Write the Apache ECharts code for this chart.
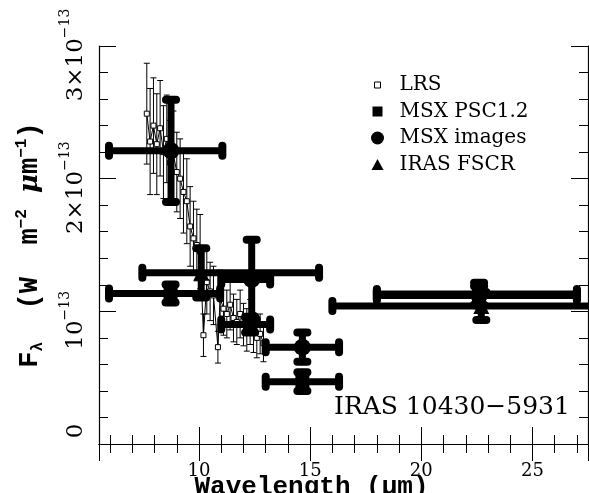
<!DOCTYPE html>
<html><head><meta charset="utf-8">
<script src="https://cdn.jsdelivr.net/npm/echarts@6/dist/echarts.min.js"></script>
<style>html,body{margin:0;padding:0;background:#fff}#c{width:589px;height:493px}</style>
</head><body><div id="c"></div>
<script>
// ---- LRS spectrum (units of 1e-13 W m^-2 um^-1) ----
const lrsLam  = [7.65,7.80,7.95,8.10,8.25,8.40,8.55,8.70,8.85,9.00,9.15,9.30,9.45,9.60,9.75,9.90,10.05,10.20,10.35,10.50,10.65,10.85,10.95,11.10,11.25,11.40,11.55,11.70,11.85,12.00,12.15,12.30,12.45,12.60,12.75,12.90];
const lrsFlux = [2.49,2.28,2.40,2.26,2.38,2.20,2.30,2.12,2.18,2.05,2.00,1.90,1.83,1.64,1.55,1.50,1.45,0.82,1.22,1.15,1.12,0.73,1.10,1.02,0.98,1.05,0.95,0.92,0.98,0.90,0.86,0.92,0.84,0.80,0.83,0.76];
const lrsErr  = [0.38,0.40,0.36,0.38,0.36,0.35,0.33,0.32,0.33,0.30,0.30,0.31,0.32,0.30,0.28,0.27,0.28,0.16,0.24,0.22,0.22,0.12,0.21,0.20,0.18,0.19,0.18,0.17,0.18,0.16,0.16,0.17,0.15,0.15,0.15,0.14];

// ---- MSX PSC1.2 ----
const psLam   = [8.72, 12.30, 14.65, 22.60];
const psFlux  = [1.135, 0.90, 0.47, 1.13];
const psErr   = [0.068, 0.06, 0.07, 0.085];
const psLamLo = [5.95, 11.00, 13.00, 18.00];
const psLamHi = [10.95, 13.20, 16.30, 27.00];

// ---- MSX images ----
const imLam   = [8.74, 12.37, 14.65, 22.60];
const imFlux  = [2.21, 1.24, 0.73, 1.12];
const imErr   = [0.385, 0.30, 0.11, 0.07];
const imLamLo = [5.95, 11.00, 13.00, 18.00];
const imLamHi = [11.05, 13.20, 16.30, 27.00];

// ---- IRAS FSCR ----
const irLam   = [10.10, 22.70];
const irFlux  = [1.29, 1.04];
const irErr   = [0.185, 0.105];
const irLamLo = [7.45, 16.00];
const irLamHi = [15.40, 30.00];

// ---- tick labels ----
const yTickLabels = {0: '{z|0}', 1: '{m|10}{s|−13}', 2: '{m|2×10}{s|−13}', 3: '{m|3×10}{s|−13}'};
const legendNames = ['LRS', 'MSX PSC1.2', 'MSX images', 'IRAS FSCR'];
const objectName = 'IRAS 10430−5931';

const chart = echarts.init(document.getElementById('c'), null, {renderer: 'canvas'});

function thinBars(params, api) {
  const x = api.value(0), y = api.value(1), e = api.value(2);
  const t = api.coord([x, y + e]), b = api.coord([x, y - e]);
  const st = {stroke: '#000', lineWidth: 1};
  const h = 3;
  return {type: 'group', children: [
    {type: 'line', shape: {x1: t[0], y1: t[1], x2: b[0], y2: b[1]}, style: st},
    {type: 'line', shape: {x1: t[0]-h, y1: t[1], x2: t[0]+h, y2: t[1]}, style: st},
    {type: 'line', shape: {x1: b[0]-h, y1: b[1], x2: b[0]+h, y2: b[1]}, style: st}
  ]};
}
function thickBars(params, api) {
  const x = api.value(0), y = api.value(1), e = api.value(2), lo = api.value(3), hi = api.value(4);
  const c = api.coord([x, y]);
  const t = api.coord([x, y + e]), b = api.coord([x, y - e]);
  const L = api.coord([lo, y]), R = api.coord([hi, y]);
  const st = {stroke: '#000', lineWidth: 7, lineCap: 'round'};
  const cs = {stroke: '#000', lineWidth: 8, lineCap: 'round'};
  const h = 5;
  return {type: 'group', children: [
    {type: 'line', shape: {x1: L[0], y1: c[1], x2: R[0], y2: c[1]}, style: st},
    {type: 'line', shape: {x1: c[0], y1: t[1], x2: c[0], y2: b[1]}, style: st},
    {type: 'line', shape: {x1: L[0], y1: c[1]-h, x2: L[0], y2: c[1]+h}, style: cs},
    {type: 'line', shape: {x1: R[0], y1: c[1]-h, x2: R[0], y2: c[1]+h}, style: cs},
    {type: 'line', shape: {x1: t[0]-h, y1: t[1], x2: t[0]+h, y2: t[1]}, style: cs},
    {type: 'line', shape: {x1: b[0]-h, y1: b[1], x2: b[0]+h, y2: b[1]}, style: cs}
  ]};
}
const pack5 = (l, f, e, lo, hi) => l.map((v, i) => [v, f[i], e[i], lo[i], hi[i]]);

const axisCommon = {
  axisLine: {show: true, lineStyle: {color: '#000', width: 1.2}},
  axisTick: {show: true, inside: true, length: 17, lineStyle: {color: '#000', width: 1}},
  minorTick: {show: true, splitNumber: 5, length: 9, lineStyle: {color: '#000', width: 1}},
  splitLine: {show: false}, minorSplitLine: {show: false}
};

const option = {
  backgroundColor: '#fff',
  animation: false,
  title: {text: objectName, left: 334, top: 395, padding: 0,
    textStyle: {fontFamily: 'DejaVu Serif', fontSize: 25, fontWeight: 'normal', color: '#000'}},
  legend: {
    show: true, selectedMode: false, orient: 'vertical', left: 360, top: 75,
    itemWidth: 34, itemHeight: 14, itemGap: 6.5, padding: 0,
    textStyle: {fontFamily: 'DejaVu Serif', fontSize: 20, color: '#000', lineHeight: 20},
    data: [
      {name: legendNames[0], icon: 'path://M0,0M34,14M14,4L20,4L20,10L14,10Z',
        itemStyle: {color: '#fff', borderColor: '#000', borderWidth: 1}},
      {name: legendNames[1], icon: 'path://M0,0M34,14M12,2L22,2L22,12L12,12Z', itemStyle: {color: '#000'}},
      {name: legendNames[2], icon: 'path://M0,0M34,14M17,0.5A6.5,6.5,0,1,1,17,13.5A6.5,6.5,0,1,1,17,0.5Z', itemStyle: {color: '#000'}},
      {name: legendNames[3], icon: 'path://M0,0M34,14M17,1.5L23,12.5L11,12.5Z', itemStyle: {color: '#000'}}
    ]
  },
  grid: {left: 99, right: 1, top: 46, bottom: 49, containLabel: false, outerBoundsMode: 'none'},
  xAxis: [
    Object.assign({type: 'value', min: 5.5, max: 27.5, position: 'bottom',
      name: 'Wavelength (µm)', nameLocation: 'middle', nameGap: 30, nameMoveOverlap: false,
      nameTextStyle: {fontFamily: 'Liberation Mono', fontWeight: 'bold', fontSize: 26, color: '#000', padding: [0, 64, 0, 0]},
      axisLabel: {show: true, showMinLabel: false, showMaxLabel: false, margin: 18,
        fontFamily: 'DejaVu Serif', fontSize: 18, color: '#000'}}, axisCommon),
    Object.assign({type: 'value', min: 5.5, max: 27.5, position: 'top',
      axisLabel: {show: false}}, axisCommon)
  ],
  yAxis: [
    Object.assign({type: 'value', min: 0, max: 3, interval: 1, position: 'left',
      name: 'F{sub|λ}  (W  m{sup|−2} {mu|μ}m{sup|−1})', nameLocation: 'middle', nameGap: 53,
      nameTextStyle: {fontFamily: 'Liberation Mono', fontWeight: 'bold', fontSize: 27, color: '#000',
        rich: {
          sub: {fontFamily: 'Liberation Mono', fontWeight: 'bold', fontSize: 16, verticalAlign: 'bottom', lineHeight: 32},
          sup: {fontFamily: 'Liberation Mono', fontWeight: 'bold', fontSize: 16, verticalAlign: 'top', lineHeight: 32},
          mu: {fontFamily: 'DejaVu Serif', fontStyle: 'italic', fontSize: 26}
        }},
      axisLabel: {show: true, rotate: 90, margin: 11, color: '#000',
        formatter: v => yTickLabels[v] || '',
        rich: {
          m: {fontFamily: 'DejaVu Serif', fontSize: 23, verticalAlign: 'bottom', lineHeight: 30},
          s: {fontFamily: 'DejaVu Serif', fontSize: 14, verticalAlign: 'top', lineHeight: 14, padding: [0, 18, 0, 0]},
          z: {fontFamily: 'DejaVu Serif', fontSize: 23, verticalAlign: 'bottom', lineHeight: 30, padding: [0, 0, 0, 26]}
        }}}, axisCommon),
    Object.assign({type: 'value', min: 0, max: 3, interval: 1, position: 'right',
      axisLabel: {show: false}}, axisCommon)
  ],
  series: [
    {name: 'LRS', type: 'custom', renderItem: thinBars, clip: true, z: 2,
      data: lrsLam.map((v, i) => [v, lrsFlux[i], lrsErr[i]])},
    {name: 'LRS', type: 'line', z: 3, symbol: 'rect', symbolSize: 5, showSymbol: true,
      lineStyle: {color: '#000', width: 1}, itemStyle: {color: '#fff', borderColor: '#000', borderWidth: 1},
      data: lrsLam.map((v, i) => [v, lrsFlux[i]])},
    {name: 'MSX PSC1.2', type: 'custom', renderItem: thickBars, clip: true, z: 4,
      itemStyle: {color: '#000'}, data: pack5(psLam, psFlux, psErr, psLamLo, psLamHi)},
    {name: 'MSX images', type: 'custom', renderItem: thickBars, clip: true, z: 4,
      itemStyle: {color: '#000'}, data: pack5(imLam, imFlux, imErr, imLamLo, imLamHi)},
    {name: 'IRAS FSCR', type: 'custom', renderItem: thickBars, clip: true, z: 4,
      itemStyle: {color: '#000'}, data: pack5(irLam, irFlux, irErr, irLamLo, irLamHi)},
    {name: 'MSX PSC1.2', type: 'scatter', z: 5, symbol: 'rect', symbolSize: 14,
      itemStyle: {color: '#000', opacity: 1}, data: psLam.map((v, i) => [v, psFlux[i]])},
    {name: 'MSX images', type: 'scatter', z: 5, symbol: 'circle', symbolSize: 17,
      itemStyle: {color: '#000', opacity: 1}, data: imLam.map((v, i) => [v, imFlux[i]])},
    {name: 'IRAS FSCR', type: 'scatter', z: 5, symbol: 'triangle', symbolSize: 16,
      itemStyle: {color: '#000', opacity: 1}, data: irLam.map((v, i) => [v, irFlux[i]])}
  ]
};
chart.setOption(option);
</script></body></html>
